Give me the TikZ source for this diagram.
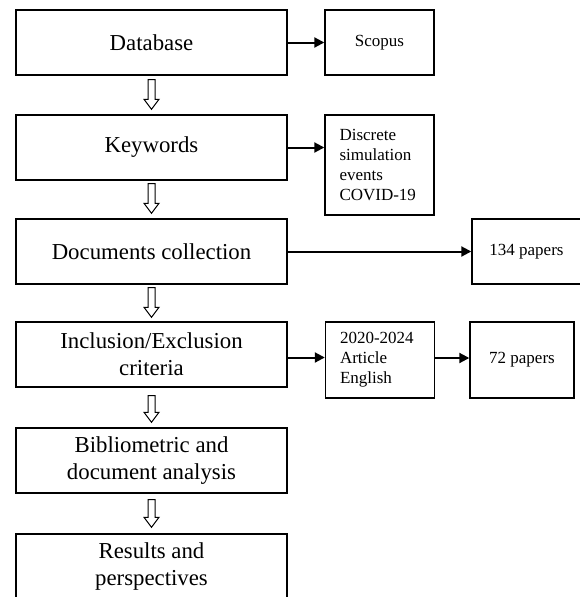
\documentclass[tikz,border=0pt]{standalone}
\usepackage{fontspec}
\setmainfont{Liberation Serif}
\usetikzlibrary{arrows.meta,calc}

\tikzset{
  mainbox/.style={draw, line width=1.4pt, minimum width=271pt, minimum height=65pt,
    align=center, inner sep=0pt, font=\fontsize{22.8}{27}\selectfont},
  sidebox/.style={draw, line width=1.4pt, minimum width=109pt, minimum height=65pt,
    inner sep=0pt, font=\fontsize{17}{20}\selectfont},
  listbox/.style={sidebox, align=left, inner xsep=14pt},
  link/.style={->, line width=2pt},
  hollow/.style={draw, line width=1pt, to path={
    let \p1=(\tikztostart), \p2=(\tikztotarget) in
    (\x1-3.5pt,\y1) -- (\x1-3.5pt,\y2+10pt) -- (\x1-7.5pt,\y2+10pt) -- (\x1,\y2)
    -- (\x1+7.5pt,\y2+10pt) -- (\x1+3.5pt,\y2+10pt) -- (\x1+3.5pt,\y1) -- cycle}}
}

\begin{document}
\begin{tikzpicture}[x=1pt, y=-1pt, >={Triangle[length=10pt,width=10pt]}]
\useasboundingbox (0,0) rectangle (579,597);
% Main steps
\node[mainbox] (db) at (151.5, 42.5) {Database};
\node[mainbox] (kw) at (151.5, 147.5) {Keywords};
\node[mainbox] (dc) at (151.5, 251.5) {Documents collection};
\node[mainbox] (ie) at (151.5, 354.5) {Inclusion/Exclusion\\criteria};
\node[mainbox] (ba) at (151.5, 460.5) {Bibliometric and\\document analysis};
\node[mainbox] (rp) at (151.5, 566.5) {Results and\\perspectives};

% Side boxes
\node[sidebox] (sc) at (379.5, 42.5) {Scopus};
\node[listbox, minimum height=100pt, text width=80pt] (dse) at (379.5, 165)
  {Discrete\\simulation\\events\\COVID-19};
\node[sidebox] (p134) at (526.5, 251.5) {134 papers};
\node[listbox, minimum height=76pt, text width=80pt] (crit) at (380, 360)
  {2020-2024\\Article\\English};
\node[sidebox, minimum width=104pt, minimum height=76pt] (p72) at (522, 360) {72 papers};

% Flow between steps
\draw[hollow] ([yshift=-4pt]db.south) to ([yshift=5pt]kw.north);
\draw[hollow] ([yshift=-3pt]kw.south) to ([yshift=5pt]dc.north);
\draw[hollow] ([yshift=-3pt]dc.south) to ([yshift=4pt]ie.north);
\draw[hollow] ([yshift=-8pt]ie.south) to ([yshift=5pt]ba.north);
\draw[hollow] ([yshift=-6pt]ba.south) to ([yshift=6pt]rp.north);

% Details
\draw[link] (db.east) -- (sc.west);
\draw[link] (kw.east) -- (kw.east -| dse.west);
\draw[link] (dc.east) -- (p134.west);
\draw[link] ([yshift=-3pt]ie.east) -- ([yshift=-3pt]ie.east -| crit.west);
\draw[link] ([yshift=2pt]crit.east) -- ([yshift=2pt]crit.east -| p72.west);
\end{tikzpicture}
\end{document}
